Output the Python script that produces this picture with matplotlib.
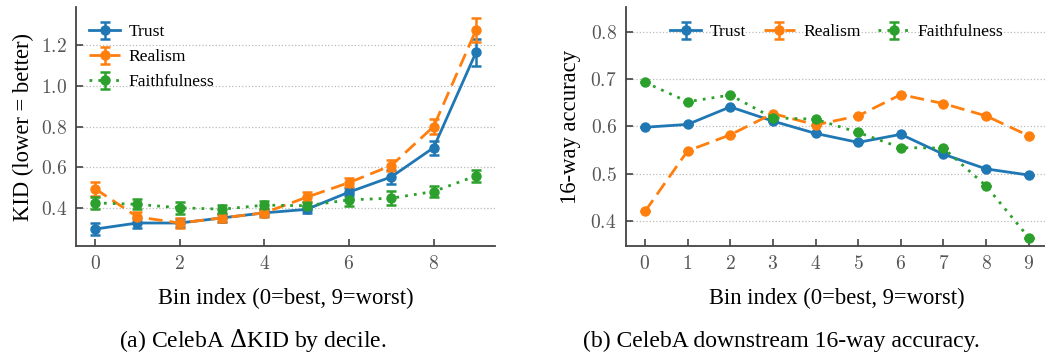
import matplotlib
matplotlib.use("Agg")
import matplotlib.pyplot as plt
from matplotlib.ticker import FuncFormatter
import numpy as np

bins = np.arange(10)

# (a) KID per decile (mean, error)
kid_trust = [0.295, 0.325, 0.325, 0.350, 0.375, 0.392, 0.477, 0.552, 0.696, 1.165]
kid_trust_err = [0.030, 0.025, 0.020, 0.018, 0.015, 0.018, 0.020, 0.033, 0.035, 0.065]
kid_realism = [0.494, 0.355, 0.325, 0.350, 0.375, 0.452, 0.524, 0.608, 0.800, 1.275]
kid_realism_err = [0.035, 0.022, 0.025, 0.018, 0.018, 0.025, 0.022, 0.025, 0.036, 0.060]
kid_faith = [0.424, 0.417, 0.400, 0.393, 0.413, 0.410, 0.439, 0.447, 0.480, 0.557]
kid_faith_err = [0.030, 0.025, 0.030, 0.020, 0.020, 0.020, 0.030, 0.035, 0.025, 0.030]

# (b) downstream 16-way accuracy
acc_trust = [0.598, 0.604, 0.641, 0.611, 0.585, 0.566, 0.583, 0.541, 0.510, 0.497]
acc_realism = [0.420, 0.548, 0.582, 0.627, 0.603, 0.622, 0.667, 0.648, 0.622, 0.580]
acc_faith = [0.693, 0.652, 0.666, 0.618, 0.615, 0.587, 0.555, 0.554, 0.474, 0.365]

labels = ["Trust", "Realism", "Faithfulness"]
colors = ["#1f77b4", "#ff7f0e", "#2ca02c"]
styles = ["-", (0, (5, 2.5)), (0, (1, 2.2))]

plt.rcParams["font.family"] = ["Liberation Serif", "DejaVu Serif"]
plt.rcParams["mathtext.fontset"] = "cm"

fig = plt.figure(figsize=(10.45, 3.52), dpi=100)
ax1 = fig.add_axes([0.0727, 0.301, 0.401, 0.679])
ax2 = fig.add_axes([0.5988, 0.301, 0.404, 0.679])

kw = dict(marker="o", markersize=6.5, linewidth=2, capsize=3.6, capthick=1.8, elinewidth=1.8)
for ys, es, lab, c, ls in zip([kid_trust, kid_realism, kid_faith],
                              [kid_trust_err, kid_realism_err, kid_faith_err],
                              labels, colors, styles):
    ax1.errorbar(bins, ys, yerr=es, color=c, linestyle=ls, label=lab, **kw)

for ys, lab, c, ls in zip([acc_trust, acc_realism, acc_faith], labels, colors, styles):
    ax2.errorbar(bins, ys, yerr=np.zeros(10), color=c, linestyle=ls, label=lab, **kw)

leg_kw = dict(frameon=False, fontsize=12.6, handlelength=1.78, handletextpad=0.46,
              borderaxespad=0.35)

ax1.set_xticks([0, 2, 4, 6, 8])
ax1.set_yticks([0.4, 0.6, 0.8, 1.0, 1.2])
ax1.set_ylabel("KID (lower = better)", fontsize=16.3, labelpad=5)
ax1.legend(loc="upper left", labelspacing=0.5, bbox_to_anchor=(0, 0.983), **leg_kw)

ax2.set_xticks(bins)
ax2.set_yticks([0.4, 0.5, 0.6, 0.7, 0.8])
ax2.set_ylim(0.347, 0.852)
ax2.set_ylabel("16-way accuracy", fontsize=16.3, labelpad=6.5)
ax2.legend(loc="upper center", ncol=3, columnspacing=1.03,
           bbox_to_anchor=(0.5, 0.983), **leg_kw)

fmt = FuncFormatter(lambda v, p: f"${v:.1f}$")
for ax in (ax1, ax2):
    ax.yaxis.set_major_formatter(fmt)
    ax.xaxis.set_major_formatter(FuncFormatter(lambda v, p: f"${v:.0f}$"))
    ax.set_xlabel("Bin index (0=best, 9=worst)", fontsize=16.3, labelpad=11)
    ax.grid(axis="y", linestyle=":", color="#bbbbbb", linewidth=0.9)
    ax.set_axisbelow(True)
    for s in ("top", "right"):
        ax.spines[s].set_visible(False)
    for s in ("left", "bottom"):
        ax.spines[s].set_color("#444444")
        ax.spines[s].set_linewidth(1.3)
    ax.tick_params(direction="in", colors="#444444", labelcolor="#555555", labelsize=14,
                   length=5, width=1.2, pad=6.5)

fig.text(0.242, 0.015, r"(a) CelebA $\Delta$KID by decile.", ha="center", va="baseline",
         fontsize=17, math_fontfamily="dejavuserif")
fig.text(0.748, 0.015, "(b) CelebA downstream 16-way accuracy.", ha="center", va="baseline",
         fontsize=17)

fig.savefig("out.png", dpi=100)
